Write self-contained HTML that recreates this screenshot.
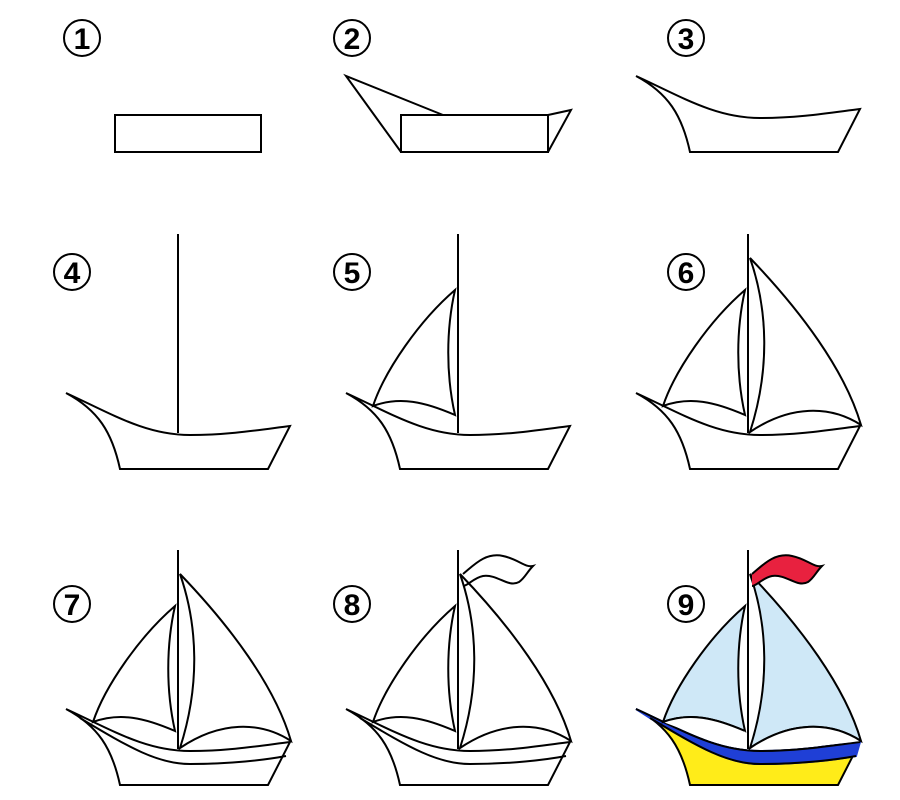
<!DOCTYPE html>
<html><head><meta charset="utf-8"><style>
html,body{margin:0;padding:0;background:#fff;}
svg{display:block;}
text{font-family:"Liberation Sans",sans-serif;font-weight:bold;font-size:30px;}
</style></head><body>
<svg width="900" height="800" viewBox="0 0 900 800" xmlns="http://www.w3.org/2000/svg">
<defs>
  <path id="hull" d="M636,393 C680,413 715,435 760,435 C800,435 835,429 860,426 L838,469 L690,469 C682,432 668,410 636,393 Z"/>
  <path id="top" d="M636,393 C680,413 715,435 760,435 C800,435 835,429 860,426"/>
  <path id="mast" d="M748,234 L748,433"/>
  <path id="lsail" d="M745,290 C710,320 675,370 663,406 C690,396 715,402 745,415 C736,375 736,330 745,290 Z"/>
  <path id="rsail" d="M750,258 C800,310 845,370 861,425 C830,405 790,405 750,432 C770,370 768,310 750,258 Z"/>
  <path id="stripe" d="M650,402 C700,432 728,448 760,448 C800,448 835,444 856,440"/>
  <path id="flag" d="M750,258 C760,250 772,236 790,240 C805,243 812,252 820,250 C814,256 812,262 806,266 C795,272 785,258 770,260 C760,262 755,270 750,270"/>
</defs>
<g fill="none" stroke="#000" stroke-width="2">
  <circle cx="82" cy="38" r="18"/><circle cx="352" cy="38" r="18"/><circle cx="686" cy="38" r="18"/>
  <circle cx="72" cy="272" r="18"/><circle cx="352" cy="272" r="18"/><circle cx="686" cy="272" r="18"/>
  <circle cx="72" cy="604" r="18"/><circle cx="352" cy="604" r="18"/><circle cx="686" cy="604" r="18"/>
</g>
<g text-anchor="middle" fill="#000">
  <text x="82" y="49">1</text><text x="352" y="49">2</text><text x="686" y="49">3</text>
  <text x="72" y="283">4</text><text x="352" y="283">5</text><text x="686" y="283">6</text>
  <text x="72" y="615">7</text><text x="352" y="615">8</text><text x="686" y="615">9</text>
</g>
<g fill="none" stroke="#000" stroke-width="2">
  <rect x="115" y="115" width="146" height="37"/>
  <rect x="401" y="115" width="147" height="37"/>
  <path d="M443,115 L346,76 L401,152"/>
  <path d="M548,115 L571,110 L548,152"/>
  <use href="#hull" transform="translate(0,-317)"/>
  <g transform="translate(-570,0)"><use href="#hull"/><use href="#mast"/></g>
  <g transform="translate(-290,0)"><use href="#hull"/><use href="#mast"/><use href="#lsail"/></g>
  <g><use href="#hull"/><use href="#mast"/><use href="#lsail"/><use href="#rsail"/></g>
  <g transform="translate(-570,316)"><use href="#hull"/><use href="#stripe"/><use href="#mast"/><use href="#lsail"/><use href="#rsail"/></g>
  <g transform="translate(-290,316)"><use href="#hull"/><use href="#stripe"/><use href="#mast"/><use href="#lsail"/><use href="#rsail"/><use href="#flag" transform="translate(3,0)"/></g>
</g>
<g transform="translate(0,316)" stroke="#000" stroke-width="2">
  <use href="#hull" fill="#ffec19"/>
  <path d="M636,393 C680,413 715,435 760,435 C800,435 835,429 860,426 L856,440 C835,444 800,448 760,448 C728,448 700,432 650,402 Z" fill="#1f3fd6" stroke="#1f3fd6"/>
  <use href="#stripe" fill="none"/>
  <use href="#top" fill="none"/>
  <use href="#lsail" fill="#cfe8f7"/>
  <use href="#rsail" fill="#cfe8f7"/>
  <path d="M745,415 C715,402 690,396 663,406 C700,420 725,428 748,433 Z" fill="#fff" stroke="none"/>
  <path d="M750,432 C790,405 830,405 861,425 C830,429 790,433 750,432 Z" fill="#fff" stroke="none"/>
  <path d="M663,406 C690,396 715,402 745,415 M750,432 C790,405 830,405 861,425" fill="none"/>
  <use href="#mast" fill="none"/>
  <use href="#flag" fill="#e8213f" transform="translate(2,0)"/>
</g>
</svg>
</body></html>
